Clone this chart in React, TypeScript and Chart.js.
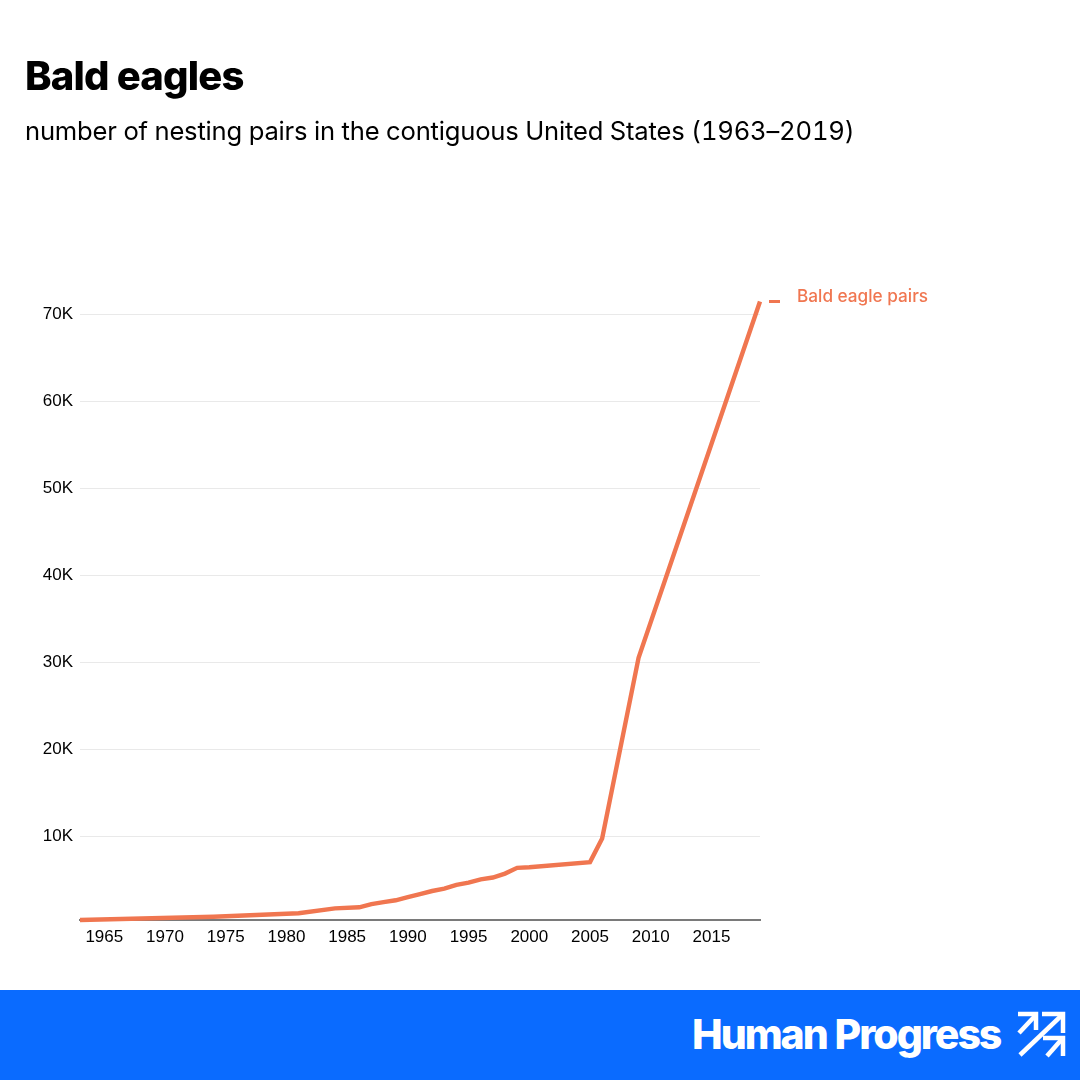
import React, { useRef, useEffect } from 'react';
import Chart from 'chart.js/auto';

const YEARS = [1963, 1974, 1981, 1984, 1986, 1987, 1988, 1989, 1990, 1991, 1992, 1993, 1994, 1995, 1996, 1997, 1998, 1999, 2000, 2005, 2006, 2009, 2019];
const PAIRS = [417, 791, 1188, 1757, 1875, 2238, 2475, 2680, 3035, 3399, 3749, 4015, 4449, 4712, 5094, 5295, 5748, 6404, 6471, 7066, 9789, 30548, 71467];
const X_TICKS = [1965, 1970, 1975, 1980, 1985, 1990, 1995, 2000, 2005, 2010, 2015];
const Y_TICKS = [10000, 20000, 30000, 40000, 50000, 60000, 70000];
const SERIES_NAME = 'Bald eagle pairs';

const ORANGE = '#F07650';
const TICK_FONT = { family: "'Liberation Sans', Arial, sans-serif", size: 17 };

// dash + series name next to the last point
const endLabel = {
  id: 'endLabel',
  afterDatasetsDraw(chart: any) {
    const pt = chart.getDatasetMeta(0).data[YEARS.length - 1];
    const ctx = chart.ctx;
    ctx.save();
    ctx.strokeStyle = ORANGE;
    ctx.lineWidth = 3;
    ctx.beginPath();
    ctx.moveTo(pt.x + 9, pt.y);
    ctx.lineTo(pt.x + 20, pt.y);
    ctx.stroke();
    ctx.fillStyle = ORANGE;
    ctx.font = "500 17.2px Inter, sans-serif";
    ctx.textBaseline = 'middle';
    ctx.fillText(SERIES_NAME, pt.x + 37, pt.y - 5);
    ctx.restore();
  },
};

export default function App() {
  const ref = useRef<HTMLCanvasElement>(null);

  useEffect(() => {
    if (!ref.current) return;
    const chart = new Chart(ref.current, {
      type: 'line',
      data: {
        datasets: [{
          label: SERIES_NAME,
          data: YEARS.map((y, i) => ({ x: y, y: PAIRS[i] })),
          borderColor: ORANGE,
          borderWidth: 4.4,
          pointRadius: 0,
          tension: 0,
          clip: false,
        }],
      },
      options: {
        animation: false,
        responsive: false,
        layout: { padding: { top: 301.5, right: 320, left: 0, bottom: 0 } },
        plugins: { legend: { display: false }, tooltip: { enabled: false } },
        scales: {
          x: {
            type: 'linear',
            min: 1963,
            max: 2019,
            afterBuildTicks: (axis: any) => { axis.ticks = X_TICKS.map((value) => ({ value })); },
            afterFit: (axis: any) => { axis.height = 70; },
            grid: { display: false, drawTicks: false },
            border: { display: true, color: '#7a7a7a', width: 2 },
            ticks: {
              color: '#000',
              font: TICK_FONT,
              padding: 7,
              maxRotation: 0,
              autoSkip: false,
              callback: (v: any) => String(v),
            },
          },
          y: {
            min: 417,
            max: 71467,
            afterBuildTicks: (axis: any) => { axis.ticks = Y_TICKS.map((value) => ({ value })); },
            afterFit: (axis: any) => { axis.width = 80; },
            grid: { color: '#e9e9e9', lineWidth: 1, drawTicks: false },
            border: { display: false },
            ticks: {
              color: '#000',
              font: TICK_FONT,
              padding: 7,
              callback: (v: any) => `${Number(v) / 1000}K`,
            },
          },
        },
      },
      plugins: [endLabel],
    } as any);
    return () => chart.destroy();
  }, []);

  return (
    <div style={{ position: 'absolute', left: 0, top: 0, width: 1080, height: 1080, background: '#fff', overflow: 'hidden', fontFamily: 'Inter, sans-serif' }}>
      <canvas ref={ref} width={1080} height={990} style={{ position: 'absolute', left: 0, top: 0, width: 1080, height: 990 }} />
      <div style={{ position: 'absolute', left: 25, top: 53, fontSize: 40, fontWeight: 800, letterSpacing: -0.8, lineHeight: '46px', color: '#000' }}>Bald eagles</div>
      <div style={{ position: 'absolute', left: 25, top: 115, fontSize: 25.6, fontWeight: 400, letterSpacing: -0.2, fontFeatureSettings: '"tnum"', lineHeight: '32px', color: '#000', whiteSpace: 'nowrap' }}>
        number of nesting pairs in the contiguous United States (1963–2019)
      </div>
      <div style={{ position: 'absolute', left: 0, top: 990, width: 1080, height: 90, background: '#0A6BFF' }}>
        <div style={{ position: 'absolute', left: 692, top: 18, fontSize: 41, fontWeight: 800, letterSpacing: -2.05, wordSpacing: 1, lineHeight: '52px', color: '#fff', whiteSpace: 'nowrap' }}>Human Progress</div>
        <svg style={{ position: 'absolute', left: 1010, top: 15 }} width={60} height={60} viewBox="0 0 60 60" fill="none" stroke="#fff" strokeWidth={4.5}>
          <path d="M8 9H26V25" />
          <path d="M9 28L25 11" />
          <path d="M32 9H53V28" />
          <path d="M10 50L52 10" />
          <path d="M33 33H53V51" />
          <path d="M37 51L52 34" />
        </svg>
      </div>
    </div>
  );
}
